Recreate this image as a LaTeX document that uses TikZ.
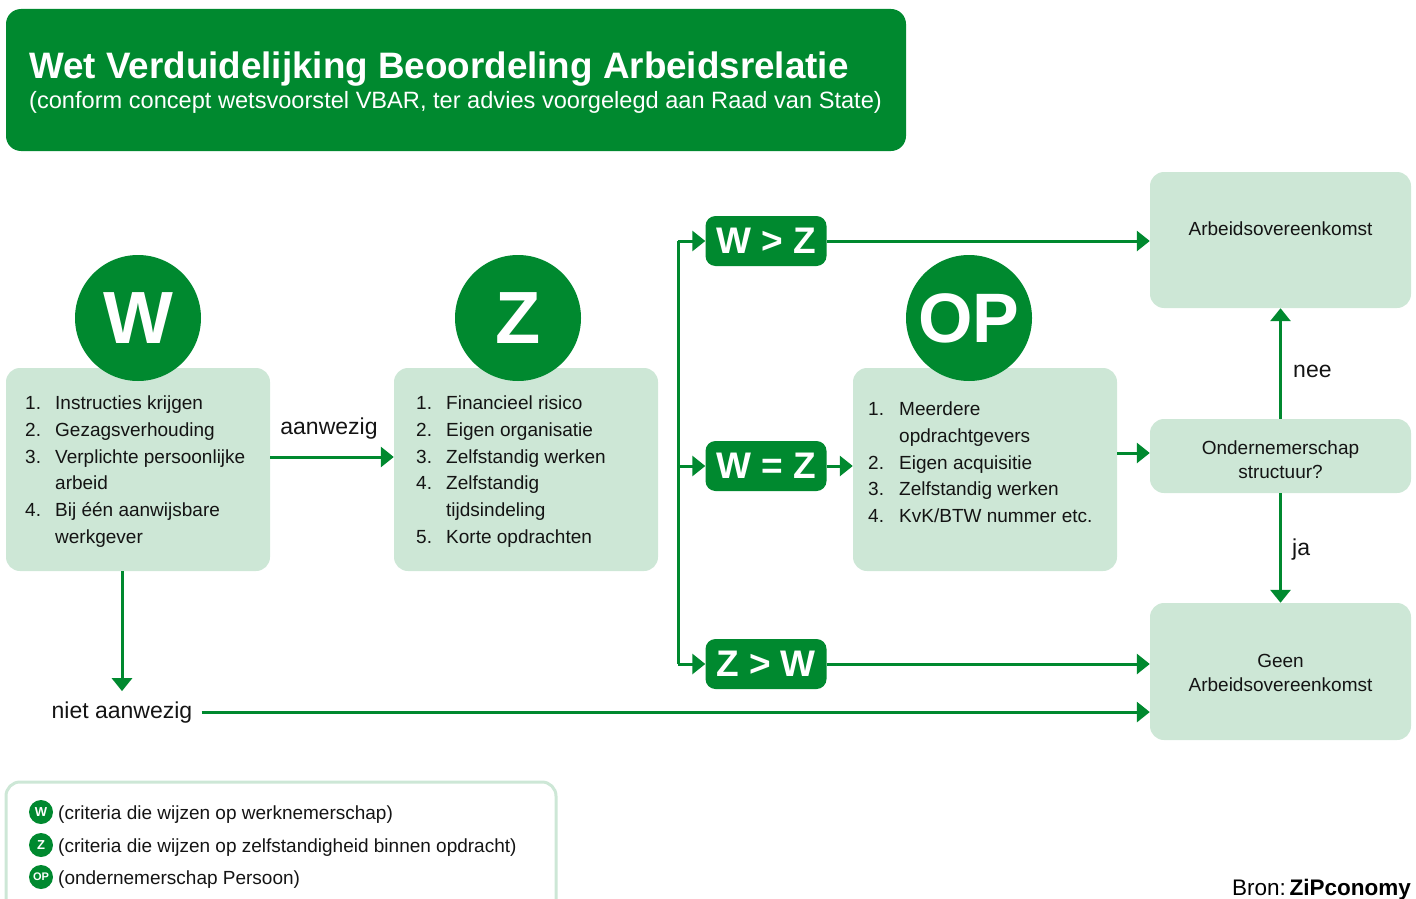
\documentclass[tikz,border=0pt]{standalone}
\usepackage{fontspec}
\setmainfont{Liberation Sans}
\usetikzlibrary{arrows.meta}
\definecolor{vbgreen}{HTML}{00892F}
\definecolor{vblight}{HTML}{CDE7D6}
\definecolor{vbtext}{HTML}{141414}

\begin{document}
\begin{tikzpicture}[x=1pt,y=-1pt,
  box/.style={fill=vblight,rounded corners=14pt,inner sep=0pt,text=vbtext,align=center,font=\fontsize{19}{24}\selectfont},
  bol/.style={circle,fill=vbgreen,minimum size=126pt,inner sep=0pt,text=white,font=\fontsize{74}{74}\selectfont\bfseries},
  minibol/.style={circle,fill=vbgreen,minimum size=24pt,inner sep=0pt,text=white,font=\fontsize{13}{13}\selectfont\bfseries},
  pil/.style={fill=vbgreen,rounded corners=10pt,minimum width=121pt,minimum height=50pt,inner sep=0pt,text=white,font=\fontsize{37}{37}\selectfont\bfseries},
  crit/.style={anchor=base west,inner sep=0pt,text=vbtext,font=\fontsize{19}{24}\selectfont},
  lbl/.style={inner sep=0pt,text=vbtext,font=\fontsize{23}{23}\selectfont},
  lijn/.style={draw=vbgreen,line width=3pt},
  pijl/.style={draw=vbgreen,line width=3pt,-{Triangle[length=13pt,width=20pt]}}]

  \clip (0,0) rectangle (1416,899);

  % kop
  \node[fill=vbgreen,rounded corners=15pt,minimum width=900pt,minimum height=142pt,inner sep=0pt] (kop) at (456,80) {};
  \node[anchor=base west,inner sep=0pt,text=white,font=\fontsize{36.8}{36.8}\selectfont\bfseries] (titel) at (29,78) {Wet Verduidelijking Beoordeling Arbeidsrelatie};
  \node[anchor=base west,inner sep=0pt,text=white,font=\fontsize{23.6}{23.6}\selectfont] (sub) at (29,108) {(conform concept wetsvoorstel VBAR, ter advies voorgelegd aan Raad van State)};

  % criteria
  \node[box,minimum width=264pt,minimum height=203pt] (wbox) at (138,469.5) {};
  \node[box,minimum width=264pt,minimum height=203pt] (zbox) at (526,469.5) {};
  \node[box,minimum width=264pt,minimum height=203pt] (opbox) at (985,469.5) {};
  \node[bol] (wcirc) at (138,318) {W};
  \node[bol] (zcirc) at (518,318) {Z};
  \node[bol,font=\fontsize{70}{70}\selectfont\bfseries] (opcirc) at (969,318) {OP};

  \foreach \y/\n/\t [count=\i] in {409/1./Instructies krijgen, 436/2./Gezagsverhouding,
      463/3./Verplichte persoonlijke, 489//arbeid, 516/4./Bij één aanwijsbare, 543//werkgever} {
    \node[crit] (wn\i) at (25,\y) {\n};
    \node[crit] (wt\i) at (55,\y) {\t};
  }
  \foreach \y/\n/\t [count=\i] in {409/1./Financieel risico, 436/2./Eigen organisatie,
      463/3./Zelfstandig werken, 489/4./Zelfstandig, 516//tijdsindeling, 543/5./Korte opdrachten} {
    \node[crit] (zn\i) at (416,\y) {\n};
    \node[crit] (zt\i) at (446,\y) {\t};
  }
  \foreach \y/\n/\t [count=\i] in {415/1./Meerdere, 442//opdrachtgevers, 469/2./Eigen acquisitie,
      495/3./Zelfstandig werken, 522/4./{KvK/BTW nummer etc.}} {
    \node[crit] (opn\i) at (868,\y) {\n};
    \node[crit] (opt\i) at (899,\y) {\t};
  }

  % uitkomsten
  \node[pil] (wgz) at (766,241) {W > Z};
  \node[pil] (wiz) at (766,466) {W = Z};
  \node[pil] (zgw) at (766,664) {Z > W};

  \node[box,minimum width=261pt,minimum height=136pt] (ao) at (1280.5,240) {};
  \node[box] (aotxt) at (1280.5,229) {Arbeidsovereenkomst};
  \node[box,minimum width=261pt,minimum height=74pt] (os) at (1280.5,456) {};
  \node[box] (ostxt) at (1280.5,460) {Ondernemerschap\\structuur?};
  \node[box,minimum width=261pt,minimum height=137pt] (geen) at (1280.5,671.5) {};
  \node[box] (geentxt) at (1280.5,672.5) {Geen\\Arbeidsovereenkomst};

  % pijlen
  \coordinate (aanw) at (0,457);
  \draw[pijl] (wbox.east |- aanw) -- (zbox.west |- aanw);
  \node[lbl,anchor=base] (aanwl) at (329,434) {aanwezig};

  \coordinate (tak1) at (678,241);
  \coordinate (tak2) at (678,466);
  \coordinate (tak3) at (678,664);
  \draw[lijn] (tak1) -- (tak3);
  \draw[pijl] (tak1) -- (wgz.west);
  \draw[pijl] (tak2) -- (wiz.west);
  \draw[pijl] (tak3) -- (zgw.west);

  \draw[pijl] (wgz.east) -- (wgz.east -| ao.west);
  \draw[pijl] (wiz.east) -- (wiz.east -| opbox.west);
  \draw[pijl] (zgw.east) -- (zgw.east -| geen.west);
  \draw[pijl] (opbox.east |- 0,453) -- (os.west |- 0,453);

  \draw[pijl] (os.north) -- (ao.south);
  \node[lbl,anchor=base west] (nee) at (1293,377) {nee};
  \draw[pijl] (os.south) -- (geen.north);
  \node[lbl,anchor=base west] (ja) at (1292,555) {ja};

  \node[lbl,anchor=base] (niet) at (122,718) {niet aanwezig};
  \draw[pijl,shorten >=10pt] (niet |- wbox.south) -- (niet.north);
  \draw[pijl,shorten <=9pt] (niet.east) -- (niet.east -| geen.west);

  % legenda
  \draw[draw=vblight,line width=3pt,rounded corners=14pt] (6,782) rectangle (556,930);
  \node[minibol] (lw) at (41,812) {W};
  \node[minibol] (lz) at (41,845) {Z};
  \node[minibol,font=\fontsize{11}{11}\selectfont\bfseries] (lop) at (41,877) {OP};
  \node[crit] (lwt) at (58,819) {(criteria die wijzen op werknemerschap)};
  \node[crit] (lzt) at (58,852) {(criteria die wijzen op zelfstandigheid binnen opdracht)};
  \node[crit] (lopt) at (58,884) {(ondernemerschap Persoon)};

  \node[anchor=base east,inner sep=0pt,text=black,font=\fontsize{22.5}{22.5}\selectfont] (bron) at (1411,895) {Bron:\,\textbf{ZiPconomy}};
\end{tikzpicture}
\end{document}
